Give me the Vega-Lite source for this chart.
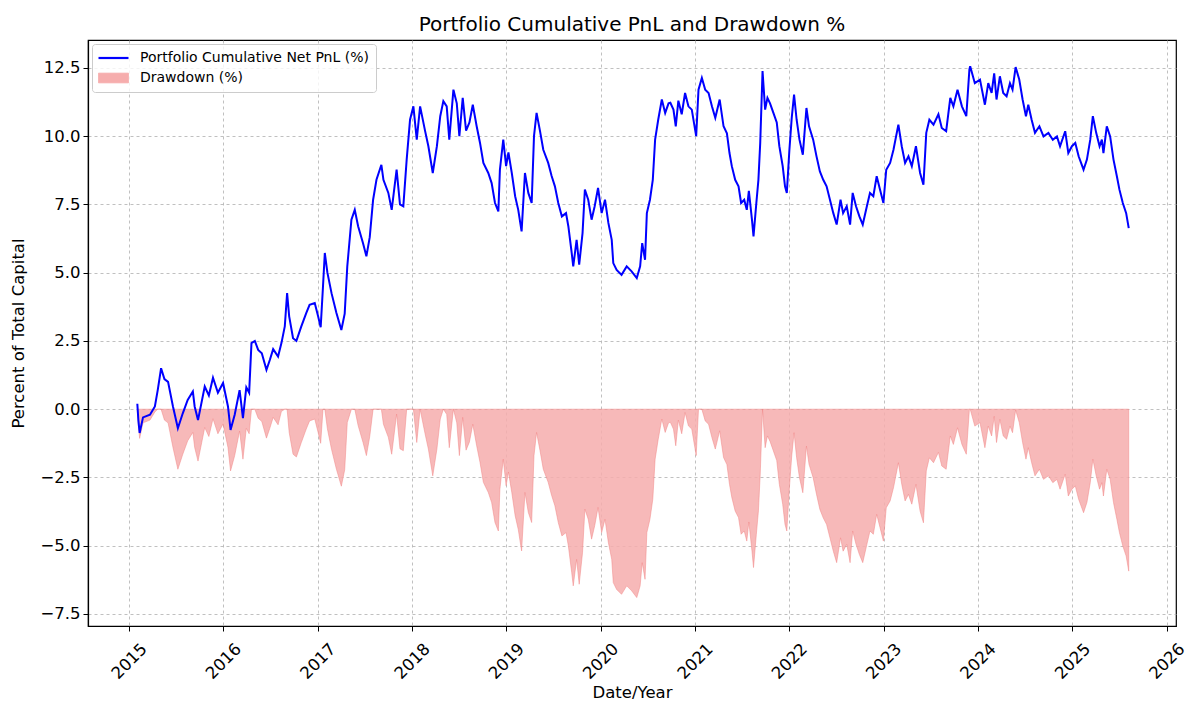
{
"$schema": "https://vega.github.io/schema/vega-lite/v6.json",
"width": 1088, "height": 586,
"autosize": {"type": "none"},
"padding": {"left": 88, "top": 40, "right": 24, "bottom": 88},
"background": "white",
"title": {"text": "Portfolio Cumulative PnL and Drawdown %", "fontSize": 20, "font": "DejaVu Sans", "fontWeight": "normal", "color": "black", "anchor": "middle", "frame": "group", "baseline": "alphabetic", "offset": -11},
"config": {"font": "DejaVu Sans", "view": {"stroke": "black", "strokeWidth": 1.2},
  "legend": {"orient": "top-left", "offset": 4, "padding": 7, "fillColor": "rgba(255,255,255,0.8)", "strokeColor": "#cccccc", "cornerRadius": 3,
    "labelFontSize": 14, "labelColor": "black", "labelOffset": 27, "labelLimit": 500, "symbolSize": 225, "rowPadding": 6}},
"data": {"values": [
{"date":"2015-02-02","pnl":0.2,"drawdown":0},
{"date":"2015-02-06","pnl":-0.4,"drawdown":-0.6},
{"date":"2015-02-11","pnl":-0.87,"drawdown":-1.07},
{"date":"2015-02-24","pnl":-0.3,"drawdown":-0.5},
{"date":"2015-03-23","pnl":-0.2,"drawdown":-0.4},
{"date":"2015-04-11","pnl":0.1,"drawdown":-0.1},
{"date":"2015-04-22","pnl":0.7,"drawdown":0},
{"date":"2015-05-05","pnl":1.5,"drawdown":0},
{"date":"2015-05-18","pnl":1.1,"drawdown":-0.4},
{"date":"2015-06-01","pnl":1.0,"drawdown":-0.5},
{"date":"2015-06-20","pnl":0.1,"drawdown":-1.4},
{"date":"2015-07-09","pnl":-0.7,"drawdown":-2.2},
{"date":"2015-07-28","pnl":-0.15,"drawdown":-1.65},
{"date":"2015-08-16","pnl":0.34,"drawdown":-1.16},
{"date":"2015-09-05","pnl":0.65,"drawdown":-0.85},
{"date":"2015-09-12","pnl":0.1,"drawdown":-1.4},
{"date":"2015-09-25","pnl":-0.4,"drawdown":-1.9},
{"date":"2015-10-21","pnl":0.83,"drawdown":-0.67},
{"date":"2015-11-06","pnl":0.5,"drawdown":-1.0},
{"date":"2015-11-22","pnl":1.15,"drawdown":-0.35},
{"date":"2015-12-11","pnl":0.6,"drawdown":-0.9},
{"date":"2015-12-31","pnl":0.96,"drawdown":-0.54},
{"date":"2016-01-19","pnl":0.1,"drawdown":-1.4},
{"date":"2016-01-29","pnl":-0.76,"drawdown":-2.26},
{"date":"2016-02-14","pnl":-0.2,"drawdown":-1.7},
{"date":"2016-03-04","pnl":0.7,"drawdown":-0.8},
{"date":"2016-03-17","pnl":-0.33,"drawdown":-1.83},
{"date":"2016-03-30","pnl":0.8,"drawdown":-0.7},
{"date":"2016-04-10","pnl":0.6,"drawdown":-0.9},
{"date":"2016-04-19","pnl":2.42,"drawdown":0},
{"date":"2016-05-02","pnl":2.5,"drawdown":0},
{"date":"2016-05-15","pnl":2.17,"drawdown":-0.33},
{"date":"2016-05-29","pnl":2.05,"drawdown":-0.45},
{"date":"2016-06-16","pnl":1.44,"drawdown":-1.06},
{"date":"2016-06-29","pnl":1.8,"drawdown":-0.7},
{"date":"2016-07-12","pnl":2.2,"drawdown":-0.3},
{"date":"2016-07-31","pnl":1.93,"drawdown":-0.57},
{"date":"2016-08-13","pnl":2.42,"drawdown":-0.08},
{"date":"2016-08-26","pnl":3.03,"drawdown":0},
{"date":"2016-09-04","pnl":4.25,"drawdown":0},
{"date":"2016-09-12","pnl":3.4,"drawdown":-0.85},
{"date":"2016-09-27","pnl":2.6,"drawdown":-1.65},
{"date":"2016-10-10","pnl":2.5,"drawdown":-1.75},
{"date":"2016-10-29","pnl":3.03,"drawdown":-1.22},
{"date":"2016-11-17","pnl":3.52,"drawdown":-0.73},
{"date":"2016-11-30","pnl":3.82,"drawdown":-0.43},
{"date":"2016-12-20","pnl":3.89,"drawdown":-0.36},
{"date":"2017-01-02","pnl":3.4,"drawdown":-0.85},
{"date":"2017-01-12","pnl":3.0,"drawdown":-1.25},
{"date":"2017-01-21","pnl":4.5,"drawdown":0},
{"date":"2017-01-28","pnl":5.72,"drawdown":0},
{"date":"2017-02-07","pnl":5.0,"drawdown":-0.72},
{"date":"2017-02-23","pnl":4.25,"drawdown":-1.47},
{"date":"2017-03-14","pnl":3.52,"drawdown":-2.2},
{"date":"2017-04-02","pnl":2.9,"drawdown":-2.82},
{"date":"2017-04-15","pnl":3.5,"drawdown":-2.22},
{"date":"2017-04-25","pnl":5.23,"drawdown":-0.49},
{"date":"2017-05-11","pnl":6.94,"drawdown":0},
{"date":"2017-05-24","pnl":7.3,"drawdown":0},
{"date":"2017-06-06","pnl":6.7,"drawdown":-0.6},
{"date":"2017-06-25","pnl":6.08,"drawdown":-1.22},
{"date":"2017-07-08","pnl":5.6,"drawdown":-1.7},
{"date":"2017-07-21","pnl":6.3,"drawdown":-1.0},
{"date":"2017-08-03","pnl":7.67,"drawdown":0},
{"date":"2017-08-16","pnl":8.4,"drawdown":0},
{"date":"2017-09-04","pnl":8.95,"drawdown":0},
{"date":"2017-09-12","pnl":8.4,"drawdown":-0.55},
{"date":"2017-10-01","pnl":7.92,"drawdown":-1.03},
{"date":"2017-10-14","pnl":7.3,"drawdown":-1.65},
{"date":"2017-11-02","pnl":8.77,"drawdown":-0.18},
{"date":"2017-11-15","pnl":7.5,"drawdown":-1.45},
{"date":"2017-11-28","pnl":7.43,"drawdown":-1.52},
{"date":"2017-12-11","pnl":9.14,"drawdown":0},
{"date":"2017-12-24","pnl":10.6,"drawdown":0},
{"date":"2018-01-06","pnl":11.09,"drawdown":0},
{"date":"2018-01-19","pnl":9.87,"drawdown":-1.22},
{"date":"2018-02-01","pnl":11.09,"drawdown":0},
{"date":"2018-02-20","pnl":10.2,"drawdown":-0.89},
{"date":"2018-03-05","pnl":9.63,"drawdown":-1.46},
{"date":"2018-03-22","pnl":8.65,"drawdown":-2.44},
{"date":"2018-04-07","pnl":9.63,"drawdown":-1.46},
{"date":"2018-04-20","pnl":10.73,"drawdown":-0.36},
{"date":"2018-05-02","pnl":11.28,"drawdown":0},
{"date":"2018-05-15","pnl":11.09,"drawdown":-0.19},
{"date":"2018-05-25","pnl":9.87,"drawdown":-1.41},
{"date":"2018-06-10","pnl":11.7,"drawdown":0},
{"date":"2018-06-23","pnl":11.2,"drawdown":-0.5},
{"date":"2018-07-03","pnl":10.0,"drawdown":-1.7},
{"date":"2018-07-16","pnl":11.4,"drawdown":-0.3},
{"date":"2018-07-29","pnl":10.2,"drawdown":-1.5},
{"date":"2018-08-11","pnl":10.5,"drawdown":-1.2},
{"date":"2018-08-24","pnl":11.15,"drawdown":-0.55},
{"date":"2018-09-08","pnl":10.36,"drawdown":-1.34},
{"date":"2018-09-21","pnl":9.75,"drawdown":-1.95},
{"date":"2018-10-04","pnl":9.02,"drawdown":-2.68},
{"date":"2018-10-23","pnl":8.65,"drawdown":-3.05},
{"date":"2018-11-05","pnl":8.28,"drawdown":-3.42},
{"date":"2018-11-18","pnl":7.55,"drawdown":-4.15},
{"date":"2018-12-01","pnl":7.24,"drawdown":-4.46},
{"date":"2018-12-07","pnl":8.77,"drawdown":-2.93},
{"date":"2018-12-20","pnl":9.87,"drawdown":-1.83},
{"date":"2018-12-31","pnl":8.9,"drawdown":-2.8},
{"date":"2019-01-09","pnl":9.4,"drawdown":-2.3},
{"date":"2019-01-22","pnl":8.65,"drawdown":-3.05},
{"date":"2019-02-04","pnl":7.8,"drawdown":-3.9},
{"date":"2019-02-16","pnl":7.3,"drawdown":-4.4},
{"date":"2019-03-01","pnl":6.51,"drawdown":-5.19},
{"date":"2019-03-14","pnl":8.65,"drawdown":-3.05},
{"date":"2019-03-27","pnl":7.92,"drawdown":-3.78},
{"date":"2019-04-09","pnl":7.55,"drawdown":-4.15},
{"date":"2019-04-18","pnl":10.0,"drawdown":-1.7},
{"date":"2019-04-28","pnl":10.85,"drawdown":-0.85},
{"date":"2019-05-11","pnl":10.2,"drawdown":-1.5},
{"date":"2019-05-24","pnl":9.5,"drawdown":-2.2},
{"date":"2019-06-12","pnl":9.02,"drawdown":-2.68},
{"date":"2019-06-25","pnl":8.55,"drawdown":-3.15},
{"date":"2019-07-08","pnl":8.16,"drawdown":-3.54},
{"date":"2019-07-21","pnl":7.55,"drawdown":-4.15},
{"date":"2019-08-04","pnl":7.06,"drawdown":-4.64},
{"date":"2019-08-20","pnl":7.18,"drawdown":-4.52},
{"date":"2019-08-29","pnl":6.7,"drawdown":-5.0},
{"date":"2019-09-11","pnl":5.72,"drawdown":-5.98},
{"date":"2019-09-17","pnl":5.23,"drawdown":-6.47},
{"date":"2019-09-30","pnl":6.2,"drawdown":-5.5},
{"date":"2019-10-10","pnl":5.29,"drawdown":-6.41},
{"date":"2019-10-23","pnl":6.45,"drawdown":-5.25},
{"date":"2019-11-01","pnl":8.04,"drawdown":-3.66},
{"date":"2019-11-14","pnl":7.67,"drawdown":-4.03},
{"date":"2019-11-27","pnl":6.94,"drawdown":-4.76},
{"date":"2019-12-09","pnl":7.43,"drawdown":-4.27},
{"date":"2019-12-22","pnl":8.1,"drawdown":-3.6},
{"date":"2020-01-05","pnl":7.18,"drawdown":-4.52},
{"date":"2020-01-18","pnl":7.67,"drawdown":-4.03},
{"date":"2020-01-31","pnl":6.82,"drawdown":-4.88},
{"date":"2020-02-13","pnl":6.2,"drawdown":-5.5},
{"date":"2020-02-19","pnl":5.35,"drawdown":-6.35},
{"date":"2020-03-03","pnl":5.1,"drawdown":-6.6},
{"date":"2020-03-22","pnl":4.92,"drawdown":-6.78},
{"date":"2020-04-11","pnl":5.23,"drawdown":-6.47},
{"date":"2020-04-30","pnl":5.05,"drawdown":-6.65},
{"date":"2020-05-20","pnl":4.8,"drawdown":-6.9},
{"date":"2020-06-02","pnl":5.23,"drawdown":-6.47},
{"date":"2020-06-10","pnl":6.08,"drawdown":-5.62},
{"date":"2020-06-21","pnl":5.47,"drawdown":-6.23},
{"date":"2020-06-28","pnl":7.18,"drawdown":-4.52},
{"date":"2020-07-10","pnl":7.67,"drawdown":-4.03},
{"date":"2020-07-21","pnl":8.4,"drawdown":-3.3},
{"date":"2020-07-30","pnl":9.87,"drawdown":-1.83},
{"date":"2020-08-11","pnl":10.6,"drawdown":-1.1},
{"date":"2020-08-25","pnl":11.34,"drawdown":-0.36},
{"date":"2020-09-07","pnl":10.85,"drawdown":-0.85},
{"date":"2020-09-20","pnl":11.2,"drawdown":-0.5},
{"date":"2020-09-27","pnl":11.22,"drawdown":-0.48},
{"date":"2020-10-09","pnl":10.97,"drawdown":-0.73},
{"date":"2020-10-18","pnl":10.36,"drawdown":-1.34},
{"date":"2020-10-28","pnl":11.3,"drawdown":-0.4},
{"date":"2020-11-10","pnl":10.8,"drawdown":-0.9},
{"date":"2020-11-23","pnl":11.58,"drawdown":-0.12},
{"date":"2020-12-06","pnl":11.09,"drawdown":-0.61},
{"date":"2020-12-19","pnl":10.97,"drawdown":-0.73},
{"date":"2021-01-05","pnl":10.0,"drawdown":-1.7},
{"date":"2021-01-14","pnl":11.7,"drawdown":0},
{"date":"2021-01-27","pnl":12.13,"drawdown":0},
{"date":"2021-02-09","pnl":11.7,"drawdown":-0.43},
{"date":"2021-02-22","pnl":11.58,"drawdown":-0.55},
{"date":"2021-03-07","pnl":11.09,"drawdown":-1.04},
{"date":"2021-03-20","pnl":10.67,"drawdown":-1.46},
{"date":"2021-04-06","pnl":11.34,"drawdown":-0.79},
{"date":"2021-04-21","pnl":10.36,"drawdown":-1.77},
{"date":"2021-05-04","pnl":10.1,"drawdown":-2.03},
{"date":"2021-05-14","pnl":9.38,"drawdown":-2.75},
{"date":"2021-05-23","pnl":8.9,"drawdown":-3.23},
{"date":"2021-06-05","pnl":8.4,"drawdown":-3.73},
{"date":"2021-06-18","pnl":8.16,"drawdown":-3.97},
{"date":"2021-06-28","pnl":7.55,"drawdown":-4.58},
{"date":"2021-07-10","pnl":7.67,"drawdown":-4.46},
{"date":"2021-07-20","pnl":7.3,"drawdown":-4.83},
{"date":"2021-07-28","pnl":8.0,"drawdown":-4.13},
{"date":"2021-08-09","pnl":6.94,"drawdown":-5.19},
{"date":"2021-08-15","pnl":6.33,"drawdown":-5.8},
{"date":"2021-08-26","pnl":7.55,"drawdown":-4.58},
{"date":"2021-09-03","pnl":8.4,"drawdown":-3.73},
{"date":"2021-09-10","pnl":9.75,"drawdown":-2.38},
{"date":"2021-09-19","pnl":12.38,"drawdown":0},
{"date":"2021-09-29","pnl":10.97,"drawdown":-1.41},
{"date":"2021-10-08","pnl":11.4,"drawdown":-0.98},
{"date":"2021-10-18","pnl":11.2,"drawdown":-1.18},
{"date":"2021-10-31","pnl":10.85,"drawdown":-1.53},
{"date":"2021-11-13","pnl":10.5,"drawdown":-1.88},
{"date":"2021-11-23","pnl":9.63,"drawdown":-2.75},
{"date":"2021-12-06","pnl":8.9,"drawdown":-3.48},
{"date":"2021-12-15","pnl":8.16,"drawdown":-4.22},
{"date":"2021-12-22","pnl":7.92,"drawdown":-4.46},
{"date":"2022-01-01","pnl":9.5,"drawdown":-2.88},
{"date":"2022-01-10","pnl":10.67,"drawdown":-1.71},
{"date":"2022-01-19","pnl":11.52,"drawdown":-0.86},
{"date":"2022-01-29","pnl":10.6,"drawdown":-1.78},
{"date":"2022-02-09","pnl":9.87,"drawdown":-2.51},
{"date":"2022-02-22","pnl":9.32,"drawdown":-3.06},
{"date":"2022-03-08","pnl":11.03,"drawdown":-1.35},
{"date":"2022-03-18","pnl":10.36,"drawdown":-2.02},
{"date":"2022-04-03","pnl":9.87,"drawdown":-2.51},
{"date":"2022-04-16","pnl":9.26,"drawdown":-3.12},
{"date":"2022-04-29","pnl":8.71,"drawdown":-3.67},
{"date":"2022-05-12","pnl":8.4,"drawdown":-3.98},
{"date":"2022-05-25","pnl":8.16,"drawdown":-4.22},
{"date":"2022-06-07","pnl":7.67,"drawdown":-4.71},
{"date":"2022-06-20","pnl":7.18,"drawdown":-5.2},
{"date":"2022-07-03","pnl":6.76,"drawdown":-5.62},
{"date":"2022-07-18","pnl":7.67,"drawdown":-4.71},
{"date":"2022-07-28","pnl":7.18,"drawdown":-5.2},
{"date":"2022-08-11","pnl":7.43,"drawdown":-4.95},
{"date":"2022-08-24","pnl":6.76,"drawdown":-5.62},
{"date":"2022-09-03","pnl":7.92,"drawdown":-4.46},
{"date":"2022-09-16","pnl":7.43,"drawdown":-4.95},
{"date":"2022-09-29","pnl":7.06,"drawdown":-5.32},
{"date":"2022-10-12","pnl":6.76,"drawdown":-5.62},
{"date":"2022-10-28","pnl":7.43,"drawdown":-4.95},
{"date":"2022-11-09","pnl":7.92,"drawdown":-4.46},
{"date":"2022-11-22","pnl":7.8,"drawdown":-4.58},
{"date":"2022-12-05","pnl":8.53,"drawdown":-3.85},
{"date":"2022-12-18","pnl":8.04,"drawdown":-4.34},
{"date":"2022-12-31","pnl":7.55,"drawdown":-4.83},
{"date":"2023-01-11","pnl":8.77,"drawdown":-3.61},
{"date":"2023-01-26","pnl":9.02,"drawdown":-3.36},
{"date":"2023-02-08","pnl":9.5,"drawdown":-2.88},
{"date":"2023-02-27","pnl":10.42,"drawdown":-1.96},
{"date":"2023-03-12","pnl":9.63,"drawdown":-2.75},
{"date":"2023-03-25","pnl":9.02,"drawdown":-3.36},
{"date":"2023-04-07","pnl":9.26,"drawdown":-3.12},
{"date":"2023-04-20","pnl":8.9,"drawdown":-3.48},
{"date":"2023-05-06","pnl":9.63,"drawdown":-2.75},
{"date":"2023-05-22","pnl":8.65,"drawdown":-3.73},
{"date":"2023-06-04","pnl":8.22,"drawdown":-4.16},
{"date":"2023-06-15","pnl":10.12,"drawdown":-2.26},
{"date":"2023-06-27","pnl":10.6,"drawdown":-1.78},
{"date":"2023-07-13","pnl":10.42,"drawdown":-1.96},
{"date":"2023-08-01","pnl":10.8,"drawdown":-1.58},
{"date":"2023-08-14","pnl":10.3,"drawdown":-2.08},
{"date":"2023-08-31","pnl":10.18,"drawdown":-2.2},
{"date":"2023-09-16","pnl":11.4,"drawdown":-0.98},
{"date":"2023-09-28","pnl":11.09,"drawdown":-1.29},
{"date":"2023-10-14","pnl":11.7,"drawdown":-0.68},
{"date":"2023-10-31","pnl":11.09,"drawdown":-1.29},
{"date":"2023-11-17","pnl":10.73,"drawdown":-1.65},
{"date":"2023-11-29","pnl":12.44,"drawdown":0},
{"date":"2023-12-02","pnl":12.56,"drawdown":0},
{"date":"2023-12-20","pnl":11.94,"drawdown":-0.62},
{"date":"2024-01-09","pnl":12.07,"drawdown":-0.49},
{"date":"2024-01-28","pnl":11.15,"drawdown":-1.41},
{"date":"2024-02-10","pnl":11.94,"drawdown":-0.62},
{"date":"2024-02-23","pnl":11.58,"drawdown":-0.98},
{"date":"2024-03-04","pnl":12.3,"drawdown":-0.26},
{"date":"2024-03-13","pnl":11.34,"drawdown":-1.22},
{"date":"2024-03-26","pnl":12.19,"drawdown":-0.37},
{"date":"2024-04-08","pnl":11.58,"drawdown":-0.98},
{"date":"2024-04-21","pnl":11.46,"drawdown":-1.1},
{"date":"2024-05-04","pnl":11.94,"drawdown":-0.62},
{"date":"2024-05-14","pnl":11.7,"drawdown":-0.86},
{"date":"2024-05-26","pnl":12.53,"drawdown":-0.03},
{"date":"2024-06-09","pnl":12.07,"drawdown":-0.49},
{"date":"2024-06-22","pnl":11.34,"drawdown":-1.22},
{"date":"2024-07-05","pnl":10.73,"drawdown":-1.83},
{"date":"2024-07-14","pnl":11.15,"drawdown":-1.41},
{"date":"2024-07-27","pnl":10.6,"drawdown":-1.96},
{"date":"2024-08-09","pnl":10.12,"drawdown":-2.44},
{"date":"2024-08-26","pnl":10.36,"drawdown":-2.2},
{"date":"2024-09-11","pnl":9.99,"drawdown":-2.57},
{"date":"2024-09-30","pnl":10.12,"drawdown":-2.44},
{"date":"2024-10-17","pnl":9.87,"drawdown":-2.69},
{"date":"2024-11-02","pnl":9.99,"drawdown":-2.57},
{"date":"2024-11-14","pnl":9.63,"drawdown":-2.93},
{"date":"2024-12-04","pnl":10.18,"drawdown":-2.38},
{"date":"2024-12-16","pnl":9.38,"drawdown":-3.18},
{"date":"2024-12-30","pnl":9.63,"drawdown":-2.93},
{"date":"2025-01-12","pnl":9.75,"drawdown":-2.81},
{"date":"2025-01-25","pnl":9.26,"drawdown":-3.3},
{"date":"2025-02-13","pnl":8.77,"drawdown":-3.79},
{"date":"2025-02-26","pnl":9.14,"drawdown":-3.42},
{"date":"2025-03-11","pnl":9.87,"drawdown":-2.69},
{"date":"2025-03-21","pnl":10.73,"drawdown":-1.83},
{"date":"2025-04-03","pnl":10.12,"drawdown":-2.44},
{"date":"2025-04-16","pnl":9.63,"drawdown":-2.93},
{"date":"2025-04-25","pnl":9.87,"drawdown":-2.69},
{"date":"2025-05-01","pnl":9.38,"drawdown":-3.18},
{"date":"2025-05-14","pnl":10.36,"drawdown":-2.2},
{"date":"2025-05-27","pnl":9.99,"drawdown":-2.57},
{"date":"2025-06-09","pnl":9.14,"drawdown":-3.42},
{"date":"2025-06-22","pnl":8.53,"drawdown":-4.03},
{"date":"2025-07-02","pnl":8.04,"drawdown":-4.52},
{"date":"2025-07-15","pnl":7.55,"drawdown":-5.01},
{"date":"2025-07-28","pnl":7.18,"drawdown":-5.38},
{"date":"2025-08-07","pnl":6.63,"drawdown":-5.93}
]},
"encoding": {
  "x": {"field": "date", "type": "temporal",
    "scale": {"type": "utc", "domain": [{"year": 2014, "month": 7, "date": 26, "utc": true}, {"year": 2026, "month": 2, "date": 6, "utc": true}]},
    "axis": {"values": [{"year":2015,"utc":true},{"year":2016,"utc":true},{"year":2017,"utc":true},{"year":2018,"utc":true},{"year":2019,"utc":true},{"year":2020,"utc":true},{"year":2021,"utc":true},{"year":2022,"utc":true},{"year":2023,"utc":true},{"year":2024,"utc":true},{"year":2025,"utc":true},{"year":2026,"utc":true}],
      "labelExpr": "utcFormat(datum.value, '%Y')", "labelAngle": -45, "labelAlign": "center", "labelBaseline": "middle", "labelPadding": 30, "labelFontSize": 16.5, "labelColor": "black", "labelOverlap": false, "labelFlush": false,
      "tickSize": 5, "tickColor": "black", "tickWidth": 1, "domainColor": "black", "domainWidth": 1.2,
      "grid": true, "gridDash": [3, 3], "gridColor": "#b0b0b0", "gridWidth": 0.8,
      "title": "Date/Year", "titleFontSize": 16.5, "titleFontWeight": "normal", "titleColor": "black", "titleY": 66, "titleBaseline": "middle"}
  }
},
"layer": [
  {"mark": {"type": "area", "fillOpacity": 0.85, "stroke": "#f08080", "strokeOpacity": 0.6, "strokeWidth": 0.8},
   "encoding": {
     "y": {"field": "drawdown", "type": "quantitative",
       "scale": {"domain": [-7.94, 13.52], "nice": false, "zero": false},
       "axis": {"values": [-7.5, -5, -2.5, 0, 2.5, 5, 7.5, 10, 12.5], "format": ".1f", "labelFontSize": 16.5, "labelColor": "black", "labelPadding": 3,
         "tickSize": 5, "tickColor": "black", "tickWidth": 1, "domainColor": "black", "domainWidth": 1.2,
         "grid": true, "gridDash": [3, 3], "gridColor": "#b0b0b0", "gridWidth": 0.8,
         "title": "Percent of Total Capital", "titleFontSize": 16.5, "titleFontWeight": "normal", "titleColor": "black", "titleX": -70, "titleY": 293, "titleAngle": -90, "titleBaseline": "middle", "titleAlign": "center"}},
     "y2": {"datum": 0},
     "color": {"datum": "Drawdown (%)", "type": "nominal",
       "scale": {"domain": ["Portfolio Cumulative Net PnL (%)", "Drawdown (%)"], "range": ["#0000ff", "#f6adad"]},
       "legend": {"title": null,
         "encode": {"symbols": {"update": {
           "shape": {"signal": "datum.value === 'Drawdown (%)' ? 'M-1,-0.65H3V0.65H-1Z' : 'M-1,0H3'"},
           "fill": {"signal": "datum.value === 'Drawdown (%)' ? '#f7b9b9' : 'transparent'"},
           "stroke": {"signal": "datum.value === 'Drawdown (%)' ? '#f2a0a0' : '#0000ff'"},
           "strokeWidth": {"signal": "datum.value === 'Drawdown (%)' ? 0.8 : 2.2"},
           "size": {"value": 225}, "opacity": {"value": 1}, "fillOpacity": {"value": 1}, "strokeOpacity": {"value": 1}}}}}}
   }},
  {"mark": {"type": "line", "strokeWidth": 2},
   "encoding": {
     "y": {"field": "pnl", "type": "quantitative",
       "scale": {"domain": [-7.94, 13.52], "nice": false, "zero": false},
       "axis": {"values": [-7.5, -5, -2.5, 0, 2.5, 5, 7.5, 10, 12.5], "format": ".1f", "labelFontSize": 16.5, "labelColor": "black", "labelPadding": 3,
         "tickSize": 5, "tickColor": "black", "tickWidth": 1, "domainColor": "black", "domainWidth": 1.2,
         "grid": true, "gridDash": [3, 3], "gridColor": "#b0b0b0", "gridWidth": 0.8,
         "title": "Percent of Total Capital", "titleFontSize": 16.5, "titleFontWeight": "normal", "titleColor": "black", "titleX": -70, "titleY": 293, "titleAngle": -90, "titleBaseline": "middle", "titleAlign": "center"}},
     "color": {"datum": "Portfolio Cumulative Net PnL (%)", "type": "nominal",
       "legend": {"title": null,
         "encode": {"symbols": {"update": {
           "shape": {"signal": "datum.value === 'Drawdown (%)' ? 'M-1,-0.65H3V0.65H-1Z' : 'M-1,0H3'"},
           "fill": {"signal": "datum.value === 'Drawdown (%)' ? '#f7b9b9' : 'transparent'"},
           "stroke": {"signal": "datum.value === 'Drawdown (%)' ? '#f2a0a0' : '#0000ff'"},
           "strokeWidth": {"signal": "datum.value === 'Drawdown (%)' ? 0.8 : 2.2"},
           "size": {"value": 225}, "opacity": {"value": 1}, "fillOpacity": {"value": 1}, "strokeOpacity": {"value": 1}}}}}}
   }}
]
}
